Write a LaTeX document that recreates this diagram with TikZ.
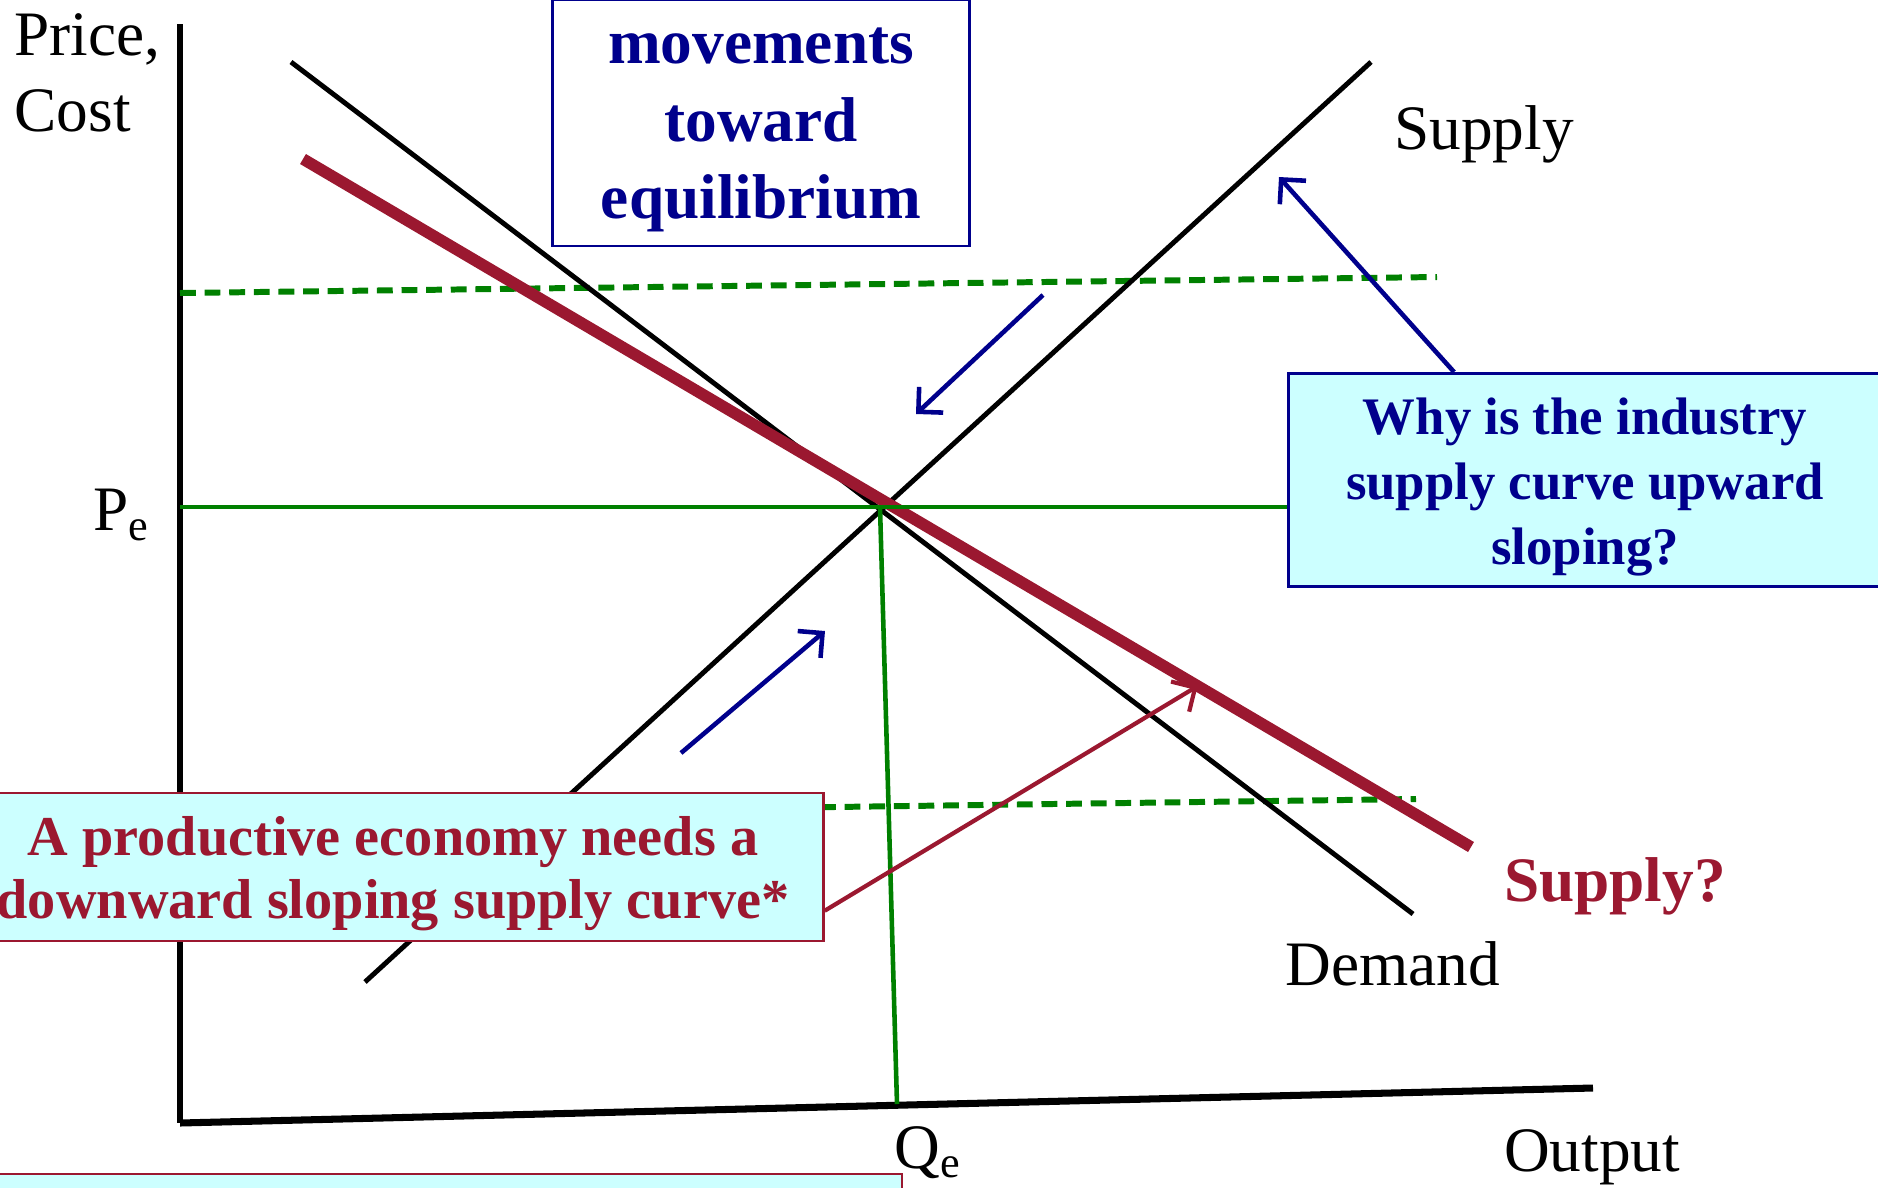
\documentclass[tikz,border=0pt]{standalone}
\usepackage{fontspec}
\setmainfont{Liberation Serif}
\usetikzlibrary{arrows.meta,calc,positioning}
\definecolor{navyblue}{RGB}{0,0,140}
\definecolor{wine}{RGB}{155,24,48}
\definecolor{paleaqua}{RGB}{204,255,255}
\definecolor{grassgreen}{RGB}{0,128,0}
\begin{document}
\begin{tikzpicture}[x=0.01cm, y=-0.01cm, >={Straight Barb[length=5pt,width=10pt]},
  lbl/.style={font=\fontsize{18pt}{21.5pt}\selectfont, inner sep=0pt},
  curve/.style={line width=1.4pt},
  guide/.style={grassgreen, line width=1.3pt},
  dashguide/.style={grassgreen, line width=1.7pt, dash pattern=on 4.5pt off 2.5pt},
  move/.style={->, navyblue, line width=1.3pt},
  note/.style={fill=paleaqua, line width=0.8pt, inner sep=0pt},
  notetext/.style={align=center, inner sep=0pt}]
  \useasboundingbox (0,0) rectangle (1878,1187); \clip (0,0) rectangle (1878,1187);
  \coordinate (o) at (180,1123); \coordinate (ytop) at (180,24); \coordinate (xend) at (1593,1088);
  \draw[line width=1.5pt] (ytop) -- (o); \draw[line width=2pt] (o) -- (xend);
  \coordinate (d1) at (291,62); \coordinate (d2) at (1413,914);
  \coordinate (s1) at (365,982); \coordinate (s2) at (1371,62);
  \coordinate (r1) at (303,159); \coordinate (r2) at (1471,847);
  \coordinate (eq) at (880,507); \coordinate (qe) at (897,1104); \coordinate (pe) at (180,507);
  \draw[dashguide] (180,293) -- (1437,277); \draw[dashguide] (180,816) -- (1416,799);
  \draw[curve] (d1) -- (d2); \draw[curve] (s1) -- (s2);
  \draw[wine, line width=3.3pt] (r1) -- (r2);
  \node[note, draw=navyblue, fill=white, minimum width=4.16cm, minimum height=2.46cm] (mov) at (761,123) {};
  \node[notetext, text=navyblue, font=\bfseries\fontsize{18pt}{22pt}\selectfont] (movt) at ([yshift=-0.07cm]mov.center) {movements\\toward\\equilibrium};
  \node[note, draw=navyblue, minimum width=5.92cm, minimum height=2.13cm] (why) at (1585,480) {};
  \node[notetext, text=navyblue, font=\bfseries\fontsize{15pt}{18.4pt}\selectfont] (whyt) at ([yshift=-0.07cm]why.center) {Why is the industry\\supply curve upward\\sloping?};
  \draw[guide] (pe) -- (pe -| why.west); \draw[guide] (eq) -- (qe);
  \node[note, draw=wine, minimum width=8.6cm, minimum height=1.48cm] (prod) at (393,867) {};
  \node[notetext, text=wine, font=\bfseries\fontsize{16pt}{18pt}\selectfont] (prodt) at ([yshift=-0.07cm]prod.center) {A productive economy needs a\\downward sloping supply curve*};
  \draw[wine, fill=paleaqua, line width=0.8pt] (-20,1174) rectangle (902,1260);
  \draw[move] (1043,295) -- (916,414); \draw[move] (681,753) -- (825,631);
  \draw[move] ($(why.north west)!0.28!(why.north east)$) -- (1279,177);
  \draw[->, wine, line width=1.2pt] ($(prod.north east)!0.79!(prod.south east)$) -- ($(r1)!0.766!(r2)$);
  \node[lbl, anchor=west, align=left] (pc) at (14,73) {Price,\\Cost};
  \node[lbl, anchor=west] (pel) at (93,515) {P\textsubscript{e}};
  \node[lbl] (qel) at (928,1153) {Q\textsubscript{e}};
  \node[lbl] (sup) at (1484,134) {Supply};
  \node[lbl] (dem) at (1393,964) {Demand};
  \node[lbl] (out) at (1592,1157) {Output};
  \node[lbl, text=wine, font=\bfseries\fontsize{18pt}{20pt}\selectfont] (supq) at (1615,886) {Supply?};
\end{tikzpicture}
\end{document}
